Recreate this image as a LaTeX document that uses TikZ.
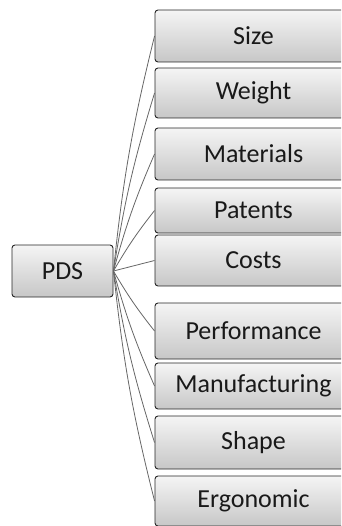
\documentclass[tikz,border=0pt]{standalone}
\usepackage{fontspec}
\setmainfont{Carlito}
\begin{document}
\begin{tikzpicture}[x=1pt,y=-1pt,
  box/.style={draw=black!85, line width=0.9pt, rounded corners=3pt,
    top color=black!4, bottom color=black!22, inner sep=0pt,
    font=\fontsize{26}{30}\selectfont, text=black!90},
  link/.style={draw=black!60, line width=0.8pt}]
\useasboundingbox (0,0) rectangle (341,526);
\clip (0,0) rectangle (341,526);
\node[box, minimum width=101, minimum height=52] (pds) at (62.5,271) {PDS};
\node[box, minimum width=197, minimum height=52] (size) at (253.5,36) {Size};
\node[box, minimum width=197, minimum height=50] (weight) at (253.5,93) {Weight};
\node[box, minimum width=197, minimum height=52] (mat) at (253.5,154) {Materials};
\node[box, minimum width=197, minimum height=45] (pat) at (253.5,210.5) {Patents};
\node[box, minimum width=197, minimum height=51] (cost) at (253.5,260.5) {Costs};
\node[box, minimum width=197, minimum height=56] (perf) at (253.5,331) {Performance};
\node[box, minimum width=197, minimum height=46] (manu) at (253.5,386) {Manufacturing};
\node[box, minimum width=197, minimum height=53] (shape) at (253.5,442.5) {Shape};
\node[box, minimum width=197, minimum height=50] (ergo) at (253.5,501) {Ergonomic};
\foreach \n in {size,weight,mat,pat}
  \draw[link] (pds.east) to[bend left=4] (\n.west);
\draw[link] (pds.east) -- (cost.west);
\foreach \n in {perf,manu,shape,ergo}
  \draw[link] (pds.east) to[bend right=4] (\n.west);
\end{tikzpicture}
\end{document}
